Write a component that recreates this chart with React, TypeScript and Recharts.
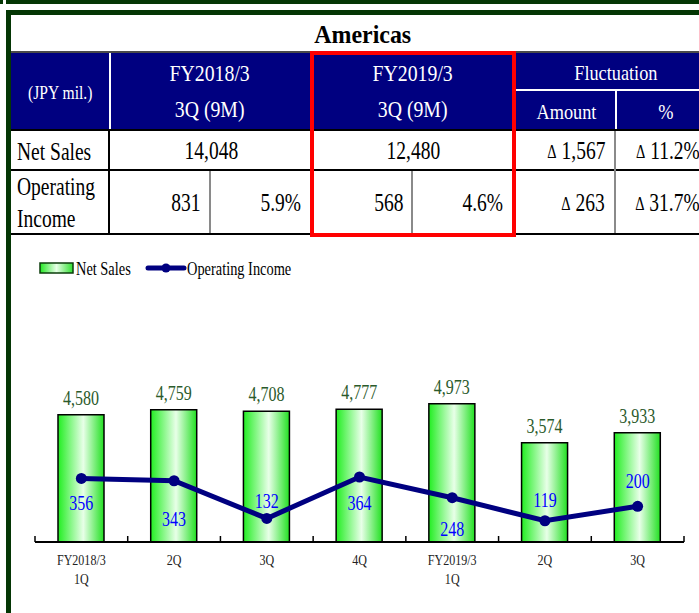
import type { ReactNode } from "react"
import { ComposedChart, Bar, Line, XAxis, YAxis, Legend, LabelList } from "recharts"

const SERIF = '"Liberation Serif", "Times New Roman", serif'
const FRAME_GREEN = "#043604"
const NAVY = "#000080"
const RED = "#ff0000"

// quarterly results, JPY mil.
const quarters = ["FY2018/3 1Q", "FY2018/3 2Q", "FY2018/3 3Q", "FY2018/3 4Q", "FY2019/3 1Q", "FY2019/3 2Q", "FY2019/3 3Q"]
const quarterTickLabels = [["FY2018/3", "1Q"], ["2Q"], ["3Q"], ["4Q"], ["FY2019/3", "1Q"], ["2Q"], ["3Q"]]
const netSales = [4580, 4759, 4708, 4777, 4973, 3574, 3933]
const operatingIncome = [356, 343, 132, 364, 248, 119, 200]

// where each operating income label sits relative to its point (px, positive = below)
const incomeLabelDy = [25, 38, -17, 26, 31, -21, -25]

// nine-month summary
const periods = ["FY2018/3", "FY2019/3"]
const periodSub = "3Q (9M)"
const summaryNetSales = ["14,048", "12,480"]
const summaryIncome = ["831", "568"]
const summaryMargin = ["5.9%", "4.6%"]
const changeNetSales = ["1,567", "11.2%"]
const changeIncome = ["263", "31.7%"]

const chartData = quarters.map((quarter, i) => ({
  quarter,
  netSales: netSales[i],
  operatingIncome: operatingIncome[i],
}))

const fmt = (v: number) => v.toLocaleString("en-US")

// Times-style text drawn a bit condensed
function NarrowText({ x, y, size, fill = "#000", anchor = "middle", squeeze = 0.8, children }: {
  x: number; y: number; size: number; fill?: string; anchor?: "start" | "middle" | "end"; squeeze?: number; children: ReactNode
}) {
  return (
    <text transform={`translate(${x} ${y}) scale(${squeeze} 1)`} textAnchor={anchor} fontSize={size} fill={fill} fontFamily={SERIF}>
      {children}
    </text>
  )
}

function Cell({ x, y, w, h, align = "center", pad = 0, size, color = "#000", bold = false, squeeze = 0.8, lineHeight, children }: {
  x: number; y: number; w: number; h: number; align?: "left" | "center" | "right"; pad?: number; size: number
  color?: string; bold?: boolean; squeeze?: number; lineHeight?: number; children: ReactNode
}) {
  const justify = align === "left" ? "flex-start" : align === "right" ? "flex-end" : "center"
  const origin = align === "left" ? "left center" : align === "right" ? "right center" : "center"
  return (
    <div style={{
      position: "absolute", left: x, top: y, width: w, height: h, display: "flex", alignItems: "center",
      justifyContent: justify, paddingLeft: align === "left" ? pad : 0, paddingRight: align === "right" ? pad : 0,
      boxSizing: "border-box",
    }}>
      <span style={{
        display: "inline-block", transform: `scaleX(${squeeze})`, transformOrigin: origin, fontSize: size, color,
        fontWeight: bold ? 700 : 400, whiteSpace: "pre", lineHeight: lineHeight ? `${lineHeight}px` : 1, textAlign: align,
      }}>
        {children}
      </span>
    </div>
  )
}

function Rule({ x, y, w, h, color }: { x: number; y: number; w: number; h: number; color: string }) {
  return <div style={{ position: "absolute", left: x, top: y, width: w, height: h, background: color }} />
}

const Delta = ({ v }: { v: string }) => (
  <>
    <span style={{ fontSize: "0.74em", verticalAlign: "0.04em" }}>Δ</span> {v}
  </>
)

function QuarterTick(props: any) {
  const { x, y, payload, index } = props
  const half = payload?.offset ?? 0
  const lines = quarterTickLabels[index] ?? [String(payload.value)]
  return (
    <g>
      <line x1={x - half} x2={x - half} y1={y - 6} y2={y} stroke="#000" strokeWidth={1.5} />
      {index === quarters.length - 1 && <line x1={x + half} x2={x + half} y1={y - 6} y2={y} stroke="#000" strokeWidth={1.5} />}
      {lines.map((t: string, i: number) => (
        <NarrowText key={t} x={x} y={y + 23 + i * 19} size={14} fill="#222" squeeze={0.86}>{t}</NarrowText>
      ))}
    </g>
  )
}

const renderSalesLabel = (props: any) => {
  const { x, y, width, value } = props
  return <NarrowText x={x + width / 2} y={y - 10} size={20} fill="#2b5a2b">{fmt(Number(value))}</NarrowText>
}

const renderIncomeLabel = (props: any) => {
  const { x, y, value, index } = props
  return <NarrowText x={x} y={y + incomeLabelDy[index] + 7} size={20} fill="#0000ff">{fmt(Number(value))}</NarrowText>
}

const renderLegend = (props: any) => {
  const items = props.payload ?? []
  return (
    <svg width={290} height={22}>
      <defs>
        <linearGradient id="legendFill" x1="0" y1="0" x2="1" y2="0">
          <stop offset="0" stopColor="#22e822" />
          <stop offset="0.5" stopColor="#e6ffe6" />
          <stop offset="1" stopColor="#2ee02e" />
        </linearGradient>
      </defs>
      <rect x={2} y={5} width={33} height={10} fill="url(#legendFill)" stroke="#0b3d0b" strokeWidth={1.5} />
      <NarrowText x={38} y={17} size={18} anchor="start">{items[0]?.value ?? "Net Sales"}</NarrowText>
      <line x1={110} x2={146} y1={10} y2={10} stroke={NAVY} strokeWidth={5} strokeLinecap="round" />
      <circle cx={128} cy={10} r={4.5} fill={NAVY} />
      <NarrowText x={149} y={17} size={18} anchor="start">{items[1]?.value ?? "Operating Income"}</NarrowText>
    </svg>
  )
}

export default function App() {
  return (
    <div style={{ position: "absolute", left: 0, top: 0, width: 699, height: 613, overflow: "hidden", background: "#fff", fontFamily: SERIF }}>
      {/* outer frame */}
      <Rule x={0} y={0} w={3} h={4} color={FRAME_GREEN} />
      <Rule x={6} y={0} w={693} h={4} color={FRAME_GREEN} />
      <Rule x={6} y={10} w={693} h={5} color={FRAME_GREEN} />
      <Rule x={6} y={10} w={5} h={603} color={FRAME_GREEN} />

      {/* summary table */}
      <Cell x={11} y={16} w={704} h={37} size={26} bold squeeze={0.92}>Americas</Cell>

      <Rule x={11} y={51} w={704} h={2} color="#4a4a4a" />
      <Rule x={11} y={53} w={704} h={77} color={NAVY} />
      <Rule x={109} y={53} w={2} h={77} color="#fff" />
      <Rule x={516} y={89} w={200} h={2} color="#fff" />
      <Rule x={615} y={91} w={2} h={39} color="#fff" />

      <Cell x={11} y={54} w={98} h={77} size={19} color="#fff" squeeze={0.82}>(JPY mil.)</Cell>
      <Cell x={110} y={53} w={200} h={77} size={23} color="#fff" squeeze={0.86} lineHeight={36}>{`${periods[0]}\n${periodSub}`}</Cell>
      <Cell x={312} y={53} w={202} h={77} size={23} color="#fff" squeeze={0.86} lineHeight={36}>{`${periods[1]}\n${periodSub}`}</Cell>
      <Cell x={516} y={55} w={200} h={37} size={21} color="#fff" squeeze={0.87}>Fluctuation</Cell>
      <Cell x={516} y={93} w={100} h={39} size={21} color="#fff" squeeze={0.87}>Amount</Cell>
      <Cell x={617} y={93} w={98} h={39} size={21} color="#fff" squeeze={0.87}>%</Cell>

      <Rule x={11} y={129} w={704} h={2} color="#000" />
      <Rule x={11} y={169} w={704} h={2} color="#000" />
      <Rule x={11} y={233} w={704} h={2} color="#000" />
      <Rule x={108} y={129} w={2} h={106} color="#000" />
      <Rule x={614} y={131} w={2} h={102} color="#8a8a8a" />
      <Rule x={209} y={171} w={2} h={62} color="#8a8a8a" />
      <Rule x={411} y={171} w={2} h={62} color="#8a8a8a" />

      <Cell x={11} y={132} w={97} h={38} align="left" pad={6} size={25} squeeze={0.78}>Net Sales</Cell>
      <Cell x={110} y={131} w={202} h={38} size={25} squeeze={0.78}>{summaryNetSales[0]}</Cell>
      <Cell x={312} y={131} w={202} h={38} size={25} squeeze={0.78}>{summaryNetSales[1]}</Cell>
      <Cell x={516} y={131} w={99} h={38} align="right" pad={10} size={25} squeeze={0.78}><Delta v={changeNetSales[0]} /></Cell>
      <Cell x={616} y={131} w={99} h={38} align="right" pad={15} size={25} squeeze={0.78}><Delta v={changeNetSales[1]} /></Cell>

      <Cell x={11} y={172} w={97} h={62} align="left" pad={6} size={25} squeeze={0.78} lineHeight={32}>{"Operating\nIncome"}</Cell>
      <Cell x={110} y={171} w={100} h={62} align="right" pad={10} size={25} squeeze={0.78}>{summaryIncome[0]}</Cell>
      <Cell x={211} y={171} w={101} h={62} align="right" pad={11} size={25} squeeze={0.78}>{summaryMargin[0]}</Cell>
      <Cell x={312} y={171} w={100} h={62} align="right" pad={9} size={25} squeeze={0.78}>{summaryIncome[1]}</Cell>
      <Cell x={413} y={171} w={101} h={62} align="right" pad={11} size={25} squeeze={0.78}>{summaryMargin[1]}</Cell>
      <Cell x={516} y={171} w={99} h={62} align="right" pad={10} size={25} squeeze={0.78}><Delta v={changeIncome[0]} /></Cell>
      <Cell x={616} y={171} w={99} h={62} align="right" pad={15} size={25} squeeze={0.78}><Delta v={changeIncome[1]} /></Cell>

      {/* current period highlight */}
      <div style={{ position: "absolute", left: 310, top: 51, width: 206, height: 186, border: `4px solid ${RED}`, boxSizing: "border-box" }} />

      {/* quarterly chart */}
      <div style={{ position: "absolute", left: 0, top: 240 }}>
        <ComposedChart width={699} height={373} data={chartData} margin={{ top: 52, right: 15, bottom: 41, left: 35 }}>
          <defs>
            <linearGradient id="salesFill" x1="0" y1="0" x2="1" y2="0">
              <stop offset="0" stopColor="#22ee22" />
              <stop offset="0.55" stopColor="#e8ffe8" />
              <stop offset="1" stopColor="#22e022" />
            </linearGradient>
          </defs>
          <XAxis
            dataKey="quarter"
            height={30}
            interval={0}
            tickSize={0}
            tickMargin={0}
            tickLine={false}
            axisLine={{ stroke: "#000", strokeWidth: 2 }}
            tick={(p: any) => <QuarterTick {...p} />}
          />
          <YAxis yAxisId="sales" hide domain={[0, 9000]} allowDataOverflow tickCount={4} />
          <YAxis yAxisId="income" orientation="right" hide domain={[0, 1400]} allowDataOverflow tickCount={3} />
          <Legend layout="vertical" align="center" verticalAlign="middle" wrapperStyle={{ left: 38, top: 18, width: 290 }} content={renderLegend} />
          <Bar yAxisId="sales" dataKey="netSales" name="Net Sales" barSize={46} fill="url(#salesFill)" stroke="#000" strokeWidth={1.5} isAnimationActive={false}>
            <LabelList dataKey="netSales" content={renderSalesLabel} />
          </Bar>
          <Line
            yAxisId="income"
            type="linear"
            dataKey="operatingIncome"
            name="Operating Income"
            stroke={NAVY}
            strokeWidth={5}
            dot={{ r: 5.5, fill: NAVY, stroke: NAVY, strokeWidth: 0 }}
            activeDot={false}
            isAnimationActive={false}
          >
            <LabelList dataKey="operatingIncome" content={renderIncomeLabel} />
          </Line>
        </ComposedChart>
      </div>
    </div>
  )
}
